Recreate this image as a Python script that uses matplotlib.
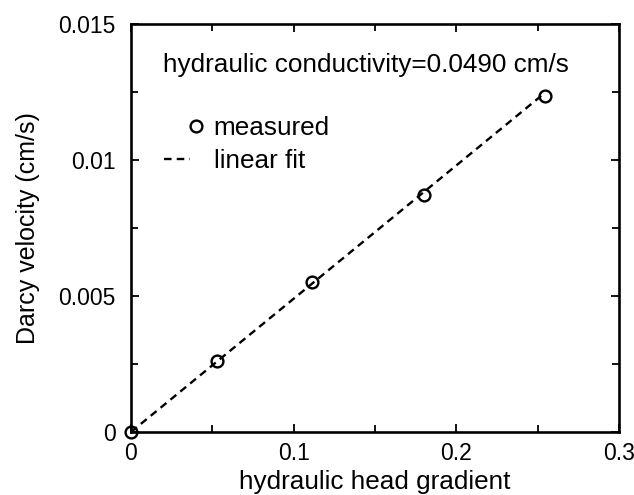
import numpy as np
from matplotlib import pyplot as plt
from matplotlib.legend_handler import HandlerLine2D

plt.rcParams['font.family'] = ['Liberation Sans', 'DejaVu Sans']

# measured Darcy velocity vs hydraulic head gradient
gradient = [0.0, 0.0527, 0.111, 0.180, 0.2545]
velocity = [0.0, 0.00261, 0.0055, 0.00872, 0.01235]
conductivity = 0.0490  # cm/s, slope of the fit through the origin

x_ticks = [0, 0.1, 0.2, 0.3]
x_ticklabels = ['0', '0.1', '0.2', '0.3']
y_ticks = [0, 0.005, 0.01, 0.015]
y_ticklabels = ['0', '0.005', '0.01', '0.015']


class RightMarkerHandler(HandlerLine2D):
    # marker-only entry: the single marker sits at the middle of xdata,
    # so squeeze xdata around a point just past the handle's right end
    def get_xdata(self, legend, xdescent, ydescent, width, height, fontsize):
        xm = -xdescent + 1.2 * width
        return np.array([xm - 1, xm + 1]), np.array([xm])


fig = plt.figure(figsize=(6.34, 4.95), dpi=100)
ax = fig.add_axes([0.2066, 0.1273, 0.7697, 0.8242])

fit_x = np.array([0.0, max(gradient)])
fit_y = conductivity * fit_x

pts, = ax.plot(gradient, velocity, 'o', ms=8.5, mfc='none', mec='black', mew=1.7,
               label='measured', zorder=3, clip_on=False)
ax.plot(fit_x, fit_y, '--', color='black', lw=1.7, dashes=(3.2, 2.2),
        label='linear fit')

ax.set_xlim(0, 0.3)
ax.set_ylim(0, 0.015)
ax.set_xticks(x_ticks)
ax.set_xticklabels(x_ticklabels)
ax.set_yticks(y_ticks)
ax.set_yticklabels(y_ticklabels)
ax.set_xticks([0.05, 0.15, 0.25], minor=True)
ax.set_yticks([0.0025, 0.0075, 0.0125], minor=True)
ax.tick_params(which='both', direction='in', top=True, right=True,
               width=1.3, labelsize=16.5)
ax.tick_params(which='major', length=6)
ax.tick_params(which='minor', length=5)
ax.tick_params(axis='x', pad=7)
ax.tick_params(axis='y', pad=11)
for s in ax.spines.values():
    s.set_linewidth(1.9)

ax.set_xlabel('hydraulic head gradient', fontsize=18.8, labelpad=4)
ax.set_ylabel('Darcy velocity (cm/s)', fontsize=18, labelpad=13)

ax.text(0.066, 0.9, 'hydraulic conductivity=%.4f cm/s' % conductivity,
        transform=ax.transAxes, fontsize=18.8, va='center', ha='left')

ax.legend(loc='upper left', bbox_to_anchor=(0.068, 0.775), frameon=False,
          fontsize=18.8, handlelength=1.0, handletextpad=0.9, labelspacing=0.36,
          borderpad=0, borderaxespad=0, numpoints=1,
          handler_map={pts: RightMarkerHandler()})

fig.savefig('out.png', dpi=100)
